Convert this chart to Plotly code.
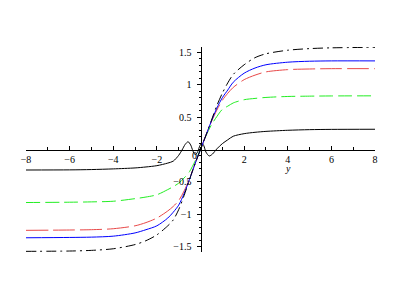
import plotly.graph_objects as go

# shared sample points (y-axis variable)
x_pts = [-8, -6, -5, -4, -3, -2.5, -2, -1.5, -1.25, -1, -0.75, -0.5, -0.25, 0,
         0.25, 0.5, 0.75, 1, 1.25, 1.5, 2, 2.5, 3, 4, 5, 6, 8]

dashdot_vals = [-1.575, -1.57, -1.56, -1.535, -1.47, -1.41, -1.32, -1.18, -1.09, -0.93, -0.71, -0.46, -0.22, 0,
                0.22, 0.45, 0.68, 0.87, 1.03, 1.16, 1.31, 1.42, 1.48, 1.535, 1.56, 1.572, 1.58]
blue_vals = [-1.365, -1.36, -1.355, -1.34, -1.29, -1.24, -1.18, -1.06, -0.97, -0.86, -0.68, -0.46, -0.22, 0,
             0.22, 0.44, 0.64, 0.80, 0.92, 1.04, 1.18, 1.26, 1.31, 1.35, 1.365, 1.37, 1.37]
red_vals = [-1.25, -1.245, -1.24, -1.225, -1.18, -1.13, -1.06, -0.95, -0.88, -0.79, -0.64, -0.45, -0.22, 0,
            0.22, 0.43, 0.61, 0.76, 0.87, 0.96, 1.08, 1.15, 1.20, 1.235, 1.245, 1.25, 1.25]
green_vals = [-0.82, -0.815, -0.81, -0.80, -0.76, -0.735, -0.70, -0.62, -0.575, -0.52, -0.44, -0.34, -0.18, 0,
              0.21, 0.38, 0.51, 0.62, 0.67, 0.72, 0.77, 0.79, 0.805, 0.82, 0.825, 0.828, 0.83]

# oscillating black solid curve
xb_pts = [-8, -6, -5, -4, -3, -2.5, -2, -1.5, -1.25, -1, -0.85, -0.7, -0.57, -0.45, -0.35, -0.25,
          -0.15, -0.05, 0.05, 0.15, 0.25, 0.4, 0.55, 0.75, 1, 1.25, 1.5, 2, 2.5, 3, 4, 5, 6, 8]
black_vals = [-0.317, -0.315, -0.31, -0.30, -0.285, -0.27, -0.25, -0.21, -0.18, -0.09, -0.01, 0.08, 0.12,
              0.07, -0.02, -0.08, -0.05, 0.04, 0.10, 0.06, -0.04, -0.10, -0.07, 0.01, 0.09, 0.15, 0.205,
              0.245, 0.266, 0.28, 0.297, 0.307, 0.311, 0.313]

x_tickvals = [-8, -6, -4, -2, 2, 4, 6, 8]
x_ticktext = ["\u22128", "\u22126", "\u22124", "\u22122", "2", "4", "6", "8"]
y_tickvals = [-1.5, -1, -0.5, 0.5, 1, 1.5]
y_ticktext = ["\u22121.5", "\u22121", "\u22120.5", "0.5", "1", "1.5"]

fig = go.Figure()
sp = dict(shape="spline", smoothing=0.8)
fig.add_trace(go.Scatter(x=xb_pts, y=black_vals, mode="lines",
                         line=dict(color="black", width=1, **sp)))
fig.add_trace(go.Scatter(x=x_pts, y=green_vals, mode="lines",
                         line=dict(color="#22ee22", width=1, dash="14px,5px", **sp)))
fig.add_trace(go.Scatter(x=x_pts, y=red_vals, mode="lines",
                         line=dict(color="#e84848", width=1, dash="22px,5px", **sp)))
fig.add_trace(go.Scatter(x=x_pts, y=blue_vals, mode="lines",
                         line=dict(color="blue", width=1, **sp)))
fig.add_trace(go.Scatter(x=x_pts, y=dashdot_vals, mode="lines",
                         line=dict(color="black", width=1, dash="10px,4px,2px,4px", **sp)))

tickfont = dict(family="Liberation Serif, serif", size=10, color="black")
fig.update_layout(
    width=409, height=300,
    margin=dict(l=26, r=34, t=47, b=48),
    paper_bgcolor="white", plot_bgcolor="white",
    showlegend=False,
    xaxis=dict(range=[-8, 8], anchor="free", position=0.5, showgrid=False, zeroline=False,
               showline=True, linecolor="black", linewidth=1, automargin=False,
               tickvals=x_tickvals, ticktext=x_ticktext, ticks="inside", ticklen=4,
               tickcolor="black", tickfont=tickfont,
               minor=dict(dtick=1, tick0=0, ticks="inside", ticklen=3, tickcolor="black", showgrid=False)),
    yaxis=dict(range=[-1.585, 1.585], anchor="free", position=0.5, showgrid=False, zeroline=False,
               showline=True, linecolor="black", linewidth=1, automargin=False,
               tickvals=y_tickvals, ticktext=y_ticktext, ticks="outside", ticklen=4,
               tickcolor="black", tickfont=tickfont, ticklabelstandoff=3,
               minor=dict(dtick=0.1, tick0=0, ticks="outside", ticklen=2, tickcolor="black", showgrid=False)),
    annotations=[
        dict(x=4, y=0, xref="x", yref="y", text="<i>y</i>", showarrow=False,
             yshift=-19, font=dict(family="Liberation Serif, serif", size=10, color="black")),
        dict(x=0, y=0, xref="x", yref="y", text="0", showarrow=False,
             xshift=-6, yshift=-6, font=tickfont),
    ],
)

fig.write_html("out.html", config={"displayModeBar": False},
               post_script="document.body.style.margin='0';document.body.style.overflow='hidden';")
